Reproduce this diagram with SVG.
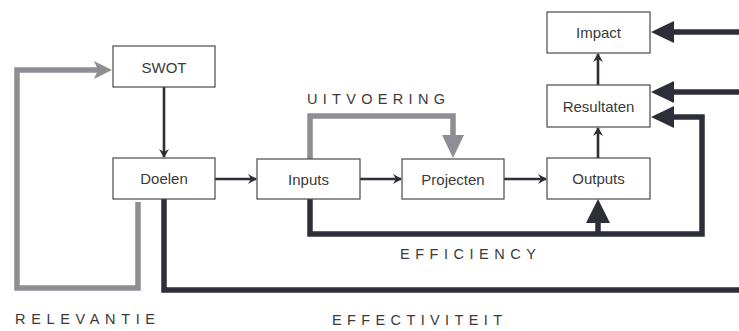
<svg xmlns="http://www.w3.org/2000/svg" width="739" height="331" viewBox="0 0 739 331">
  <defs>
    <style>
      .box { fill: #ffffff; stroke: #4a4a4a; stroke-width: 1.2; }
      .lbl { font-family: "Liberation Sans", Arial, sans-serif; font-size: 15px; fill: #3a3a3a; text-anchor: middle; }
      .cap { font-family: "Liberation Sans", Arial, sans-serif; font-size: 14.5px; fill: #3a3a3a; }
      .thin { fill: none; stroke: #2e2e38; stroke-width: 2.6; }
      .thick { fill: none; stroke: #2e2e38; stroke-width: 5.5; }
      .grey { fill: none; stroke: #8e8e94; stroke-width: 5.5; }
      .headDark { fill: #2e2e38; }
      .headGrey { fill: #8e8e94; }
    </style>
    <marker id="arr" markerWidth="10" markerHeight="10" refX="8" refY="5" orient="auto" markerUnits="userSpaceOnUse">
      <path d="M0,0 L9,5 L0,10 L3,5 Z" class="headDark"/>
    </marker>
  </defs>

  <rect width="739" height="331" fill="#ffffff"/>

  <g id="connectors">
    <!-- thin flow arrows -->
    <line class="thin" x1="164" y1="87" x2="164" y2="157" marker-end="url(#arr)"/>
    <line class="thin" x1="215" y1="179" x2="256" y2="179" marker-end="url(#arr)"/>
    <line class="thin" x1="360" y1="179" x2="401" y2="179" marker-end="url(#arr)"/>
    <line class="thin" x1="504" y1="179" x2="546" y2="179" marker-end="url(#arr)"/>
    <line class="thin" x1="598" y1="158" x2="598" y2="128" marker-end="url(#arr)"/>
    <line class="thin" x1="598" y1="85" x2="598" y2="54" marker-end="url(#arr)"/>

    <!-- relevance loop (grey) -->
    <path class="grey" d="M138,202 V288 H17 V70 H98"/>
    <path class="headGrey" d="M112,70 L94,61 L98,70 L94,79 Z"/>

    <!-- execution loop (grey) -->
    <path class="grey" d="M310,159 V116 H453 V137"/>
    <path class="headGrey" d="M453,158 L442,135 L464,135 Z"/>

    <!-- efficiency loop -->
    <path class="thick" d="M310,199 V234 H702 V117 H670"/>
    <path class="headDark" d="M651,117 L674,106 L674,128 Z"/>
    <line class="thick" x1="598" y1="234" x2="598" y2="218"/>
    <path class="headDark" d="M598,199 L586,223 L610,223 Z"/>

    <!-- effectiveness loop -->
    <path class="thick" d="M164,199 V290 H739"/>

    <!-- feeds from the right -->
    <line class="thick" x1="739" y1="32" x2="670" y2="32"/>
    <path class="headDark" d="M651,32 L674,21 L674,43 Z"/>
    <line class="thick" x1="739" y1="92" x2="670" y2="92"/>
    <path class="headDark" d="M651,92 L674,81 L674,103 Z"/>
  </g>

  <g id="swot">
    <rect class="box" x="113" y="46" width="102" height="41"/>
    <text class="lbl" x="164" y="72.5">SWOT</text>
  </g>
  <g id="doelen">
    <rect class="box" x="113" y="158" width="102" height="41"/>
    <text class="lbl" x="164" y="184">Doelen</text>
  </g>
  <g id="inputs">
    <rect class="box" x="257" y="159" width="103" height="40"/>
    <text class="lbl" x="308.5" y="184.5">Inputs</text>
  </g>
  <g id="projecten">
    <rect class="box" x="402" y="159" width="102" height="40"/>
    <text class="lbl" x="453" y="184.5">Projecten</text>
  </g>
  <g id="outputs">
    <rect class="box" x="547" y="158" width="103" height="41"/>
    <text class="lbl" x="598.5" y="184">Outputs</text>
  </g>
  <g id="resultaten">
    <rect class="box" x="547" y="85" width="103" height="42"/>
    <text class="lbl" x="598.5" y="111.5">Resultaten</text>
  </g>
  <g id="impact">
    <rect class="box" x="547" y="12" width="103" height="41"/>
    <text class="lbl" x="598.5" y="38">Impact</text>
  </g>

  <g id="captions">
    <text class="cap" x="307" y="103.5" textLength="138" lengthAdjust="spacing">UITVOERING</text>
    <text class="cap" x="400" y="259" textLength="136" lengthAdjust="spacing">EFFICIENCY</text>
    <text class="cap" x="15" y="323.5" textLength="140" lengthAdjust="spacing">RELEVANTIE</text>
    <text class="cap" x="332" y="324.5" textLength="170" lengthAdjust="spacing">EFFECTIVITEIT</text>
  </g>
</svg>
